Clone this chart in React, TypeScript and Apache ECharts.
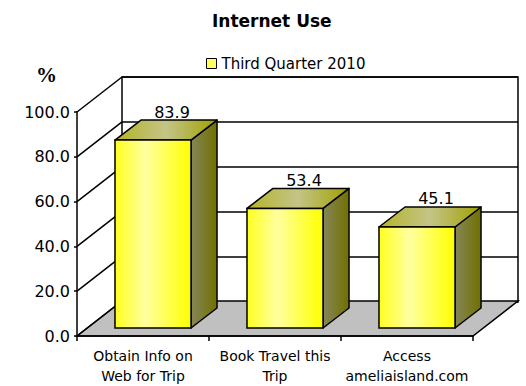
import React, { useEffect, useRef } from 'react';
import * as echarts from 'echarts';

const categories = ['Obtain Info on\nWeb for Trip', 'Book Travel this\nTrip', 'Access\nameliaisland.com'];
const seriesName = 'Third Quarter 2010';
const values = [83.9, 53.4, 45.1];
const yTicks = [0, 20, 40, 60, 80, 100];

const DEPTH_X = 45;
const DEPTH_Y = -35;
const BAR_FRONT_X = 10;
const BAR_FRONT_Y = -8;
const BAR_DEPTH_X = 26;
const BAR_DEPTH_Y = -20;
const BAR_RATIO = 0.576;
const FONT = '"DejaVu Sans", sans-serif';

export default function App() {
  const ref = useRef<HTMLDivElement>(null);
  useEffect(() => {
    const chart = echarts.init(ref.current!, null, { renderer: 'svg' });
    const frontFill = new echarts.graphic.LinearGradient(0, 0, 1, 0, [
      { offset: 0, color: '#ffff20' },
      { offset: 0.4, color: '#ffffa0' },
      { offset: 1, color: '#ffff00' },
    ]);
    const topFill = new echarts.graphic.LinearGradient(0, 0, 1, 0, [
      { offset: 0, color: '#b4b428' },
      { offset: 0.5, color: '#c4c488' },
      { offset: 1, color: '#a0a000' },
    ]);
    const sideFill = new echarts.graphic.LinearGradient(0, 0, 1, 0, [
      { offset: 0, color: '#86865a' },
      { offset: 1, color: '#707000' },
    ]);

    chart.setOption({
      animation: false,
      backgroundColor: '#fff',
      title: {
        text: 'Internet Use',
        left: 207,
        top: 7,
        textStyle: { fontFamily: FONT, fontSize: 17, fontWeight: 'bold', color: '#000' },
      },
      legend: {
        left: 201,
        top: 51,
        selectedMode: false,
        itemWidth: 10,
        itemHeight: 10,
        itemGap: 5,
        textStyle: { fontFamily: FONT, fontSize: 15, color: '#000' },
        data: [
          {
            name: seriesName,
            icon: 'rect',
            itemStyle: { color: '#ffff60', borderColor: '#000', borderWidth: 1 },
          },
        ],
      },
      grid: [
        { left: 77, top: 112, width: 396, height: 225, show: false },
        {
          left: 77 + DEPTH_X,
          top: 112 + DEPTH_Y,
          width: 396,
          height: 225,
          show: true,
          backgroundColor: '#fff',
          borderColor: '#000',
          borderWidth: 1.5,
        },
      ],
      xAxis: [
        {
          type: 'category',
          gridIndex: 0,
          data: categories,
          z: 5,
          axisLine: { show: true, lineStyle: { color: '#000', width: 1.5 } },
          axisTick: { show: true, length: 5, lineStyle: { color: '#000', width: 1.5 } },
          axisLabel: {
            interval: 0,
            margin: 10,
            fontFamily: FONT,
            fontSize: 14,
            lineHeight: 20,
            color: '#000',
          },
        },
        { type: 'value', gridIndex: 1, min: 0, max: 1, show: false },
      ],
      yAxis: [
        {
          type: 'value',
          gridIndex: 0,
          min: 0,
          max: 100,
          interval: 20,
          z: 5,
          name: '%',
          nameLocation: 'end',
          nameGap: 27,
          nameTextStyle: {
            fontFamily: '"Liberation Serif", "DejaVu Serif", serif',
            fontWeight: 'bold',
            fontSize: 21,
            color: '#000',
            align: 'right',
            padding: [0, 20, 0, 0],
          },
          axisLine: { show: true, lineStyle: { color: '#000', width: 1.5 } },
          axisTick: { show: true, length: 3, lineStyle: { color: '#000', width: 1.5 } },
          axisLabel: {
            margin: 7,
            fontFamily: FONT,
            fontSize: 16,
            color: '#000',
            formatter: (v: number) => v.toFixed(1),
          },
          splitLine: { show: false },
        },
        {
          type: 'value',
          gridIndex: 1,
          min: 0,
          max: 100,
          interval: 20,
          axisLine: { show: false },
          axisTick: { show: false },
          axisLabel: { show: false },
          splitLine: { show: true, lineStyle: { color: '#000', width: 1.5 } },
        },
      ],
      series: [
        {
          type: 'custom',
          name: 'floor',
          xAxisIndex: 0,
          yAxisIndex: 0,
          z: 1,
          silent: true,
          data: [[0, 0]],
          renderItem: (params: any, api: any) => {
            const cs = params.coordSys;
            const y = api.coord([0, 0])[1];
            const x = cs.x;
            const w = cs.width;
            return {
              type: 'polygon',
              shape: {
                points: [
                  [x, y],
                  [x + w, y],
                  [x + w + DEPTH_X, y + DEPTH_Y],
                  [x + DEPTH_X, y + DEPTH_Y],
                ],
              },
              style: { fill: '#c0c0c0', stroke: '#000', lineWidth: 1.5 },
            };
          },
        },
        {
          type: 'custom',
          name: 'wall',
          xAxisIndex: 0,
          yAxisIndex: 0,
          z: 1,
          silent: true,
          data: yTicks.map((t) => [0, t]),
          renderItem: (params: any, api: any) => {
            const cs = params.coordSys;
            const y = api.coord([0, api.value(1)])[1];
            return {
              type: 'line',
              shape: { x1: cs.x, y1: y, x2: cs.x + DEPTH_X, y2: y + DEPTH_Y },
              style: { stroke: '#000', lineWidth: 1.5 },
            };
          },
        },
        {
          type: 'custom',
          name: seriesName,
          xAxisIndex: 0,
          yAxisIndex: 0,
          z: 3,
          itemStyle: { color: '#ffff60' },
          data: values.map((v, i) => [i, v]),
          renderItem: (params: any, api: any) => {
            const cat = api.value(0);
            const v = api.value(1);
            const c = api.coord([cat, v]);
            const base = api.coord([cat, 0]);
            const bw = api.size([1, 0])[0] * BAR_RATIO;
            const x0 = c[0] - bw / 2 + BAR_FRONT_X;
            const x1 = x0 + bw;
            const top = c[1] + BAR_FRONT_Y;
            const bot = base[1] + BAR_FRONT_Y;
            const dx = BAR_DEPTH_X;
            const dy = BAR_DEPTH_Y;
            return {
              type: 'group',
              children: [
                {
                  type: 'polygon',
                  shape: { points: [[x1, top], [x1 + dx, top + dy], [x1 + dx, bot + dy], [x1, bot]] },
                  style: { fill: sideFill, stroke: '#000', lineWidth: 1.5, lineJoin: 'round' },
                },
                {
                  type: 'polygon',
                  shape: { points: [[x0, top], [x0 + dx, top + dy], [x1 + dx, top + dy], [x1, top]] },
                  style: { fill: topFill, stroke: '#000', lineWidth: 1.5, lineJoin: 'round' },
                },
                {
                  type: 'rect',
                  shape: { x: x0, y: top, width: bw, height: bot - top },
                  style: { fill: frontFill, stroke: '#000', lineWidth: 1.5 },
                },
                {
                  type: 'text',
                  x: x0 + bw / 2 + 19,
                  y: top - 28,
                  style: {
                    text: Number(v).toFixed(1),
                    fill: '#000',
                    fontFamily: FONT,
                    fontSize: 16,
                    align: 'center',
                    verticalAlign: 'middle',
                  },
                },
              ],
            };
          },
        },
      ],
    });
    return () => chart.dispose();
  }, []);
  return (
    <div
      ref={ref}
      style={{ position: 'fixed', left: 0, top: 0, width: 526, height: 386, background: '#fff' }}
    />
  );
}
